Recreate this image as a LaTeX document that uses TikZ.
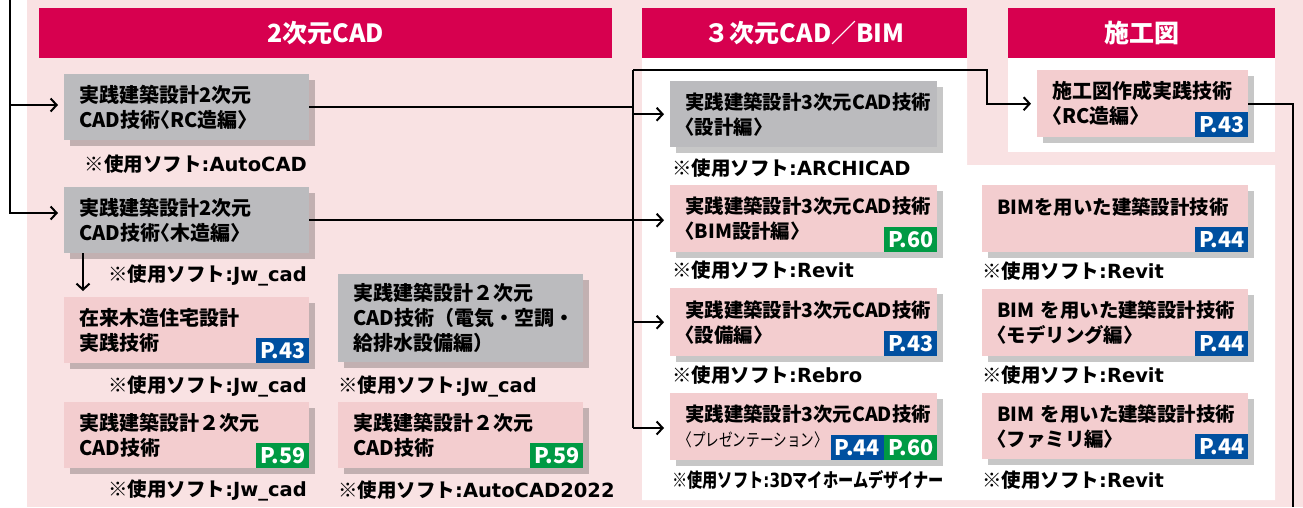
\documentclass[tikz,border=0pt]{standalone}
\usepackage{fontspec}
\usepackage{graphicx}
\setmainfont{Noto Sans CJK JP}
\newfontfamily\latf{DejaVu Sans}
\newfontfamily\hwf{Noto Sans CJK JP}[RawFeature=+halt]
\newcommand\en[1]{{\latf #1}}
\newcommand\lbr{{\hwf 〈}}
\newcommand\rbr{{\hwf 〉}}
\usetikzlibrary{arrows.meta,shadows}
\definecolor{bgpink}{HTML}{F9E2E3}
\definecolor{crimson}{HTML}{D7004F}
\definecolor{boxgray}{HTML}{BBBBBE}
\definecolor{boxpink}{HTML}{F3CDCF}
\definecolor{pblue}{HTML}{0050A0}
\definecolor{pgreen}{HTML}{009A44}
\begin{document}
\begin{tikzpicture}[x=1pt,y=-1pt,
  boxbase/.style={anchor=north west, inner xsep=15pt, inner ysep=0pt, align=left,
    font=\bfseries\fontsize{20}{25}\selectfont,
    drop shadow={shadow xshift=6pt,shadow yshift=-6pt,fill=black,opacity=0.22}},
  graybox/.style={boxbase, fill=boxgray},
  pinkbox/.style={boxbase, fill=boxpink},
  narrowtext/.style={font=\bfseries\fontsize{19.4}{25}\selectfont},
  badge/.style={anchor=south east, text=white, inner xsep=3pt, inner ysep=0pt,
    minimum height=25pt, minimum width=53pt, font=\bfseries\fontsize{21.5}{21.5}\selectfont},
  note/.style={inner sep=0pt, font=\bfseries\fontsize{19.5}{20}\selectfont},
  hdr/.style={anchor=north west, fill=crimson, text=white, minimum height=50pt,
    inner sep=0pt, font=\bfseries\fontsize{25}{25}\selectfont},
  conn/.style={line width=2pt, black},
  ar/.style={-{Straight Barb[length=6pt,width=13pt]}, shorten >=6pt}]
\useasboundingbox (0,0) rectangle (1303,507);
% backgrounds
\fill[bgpink] (27,0) rectangle (1303,507);
\fill[white] (642,58) -- (967,58) -- (967,165) -- (1275,165) -- (1275,500) -- (642,500) -- cycle;
\fill[white] (1008,58) rectangle (1275,152);
% headers
\node[hdr, minimum width=573pt] (H1) at (39,8) {2次元CAD};
\node[hdr, minimum width=325pt] (H2) at (642,8) {３次元CAD／BIM};
\node[hdr, minimum width=267pt] (H3) at (1008,8) {施工図};
% 2D column
\node[graybox, text width=215pt, minimum height=66pt] (A1) at (64,74) {実践建築設計2次元\\CAD技術\lbr RC造編\rbr};
\node[note, anchor=east] (A1n) at (307,164) {※使用ソフト\en{:AutoCAD}};
\node[graybox, text width=215pt, minimum height=66pt] (A2) at (64,187) {実践建築設計2次元\\CAD技術\lbr 木造編\rbr};
\node[note, anchor=east] (A2n) at (307,275) {※使用ソフト\en{:Jw\_cad}};
\node[pinkbox, text width=215pt, minimum height=66pt] (A3) at (64,297) {在来木造住宅設計\\実践技術};
\node[badge, fill=pblue] (A3p) at (A3.south east) {P.43};
\node[note, anchor=east] (A3n) at (307,386) {※使用ソフト\en{:Jw\_cad}};
\node[pinkbox, text width=215pt, minimum height=66pt] (A4) at (64,402) {実践建築設計２次元\\CAD技術};
\node[badge, fill=pgreen] (A4p) at (A4.south east) {P.59};
\node[note, anchor=east] (A4n) at (307,490) {※使用ソフト\en{:Jw\_cad}};
\node[graybox, text width=215pt, minimum height=88pt] (A5) at (338,274) {実践建築設計２次元\\CAD技術（電気・空調・\\給排水設備編）};
\node[note, anchor=west] (A5n) at (338,386) {※使用ソフト\en{:Jw\_cad}};
\node[pinkbox, text width=215pt, minimum height=66pt] (A6) at (338,402) {実践建築設計２次元\\CAD技術};
\node[badge, fill=pgreen] (A6p) at (A6.south east) {P.59};
\node[note, anchor=west] (A6n) at (338,490) {※使用ソフト\en{:AutoCAD2022}};
% 3D column
\node[graybox, narrowtext, text width=237pt, minimum height=66pt] (B1) at (670,81) {実践建築設計3次元CAD技術\\\lbr 設計編\rbr};
\node[note, anchor=west] (B1n) at (672,168) {※使用ソフト\en{:ARCHICAD}};
\node[pinkbox, narrowtext, text width=237pt, minimum height=67pt] (B2) at (670,185) {実践建築設計3次元CAD技術\\\lbr BIM設計編\rbr};
\node[badge, fill=pgreen] (B2p) at (B2.south east) {P.60};
\node[note, anchor=west] (B2n) at (672,270) {※使用ソフト\en{:Revit}};
\node[pinkbox, narrowtext, text width=237pt, minimum height=68pt] (B3) at (670,288) {実践建築設計3次元CAD技術\\\lbr 設備編\rbr};
\node[badge, fill=pblue] (B3p) at (B3.south east) {P.43};
\node[note, anchor=west] (B3n) at (672,375) {※使用ソフト\en{:Rebro}};
\node[pinkbox, narrowtext, text width=237pt, minimum height=67pt] (B4) at (670,393) {実践建築設計3次元CAD技術\\\scalebox{0.78}[1]{\mdseries\fontsize{17.5}{17.5}\selectfont \lbr プレゼンテーション\rbr}};
\node[badge, fill=pgreen] (B4q) at (B4.south east) {P.60};
\node[badge, fill=pblue] (B4p) at (B4q.south west) {P.44};
\node[note, anchor=west] (B4n) at (672,480) {\scalebox{0.78}[1]{※使用ソフト\en{:3D}マイホームデザイナー}};
% BIM column
\node[pinkbox, narrowtext, text width=236pt, minimum height=67pt] (C1) at (982,185) {BIMを用いた建築設計技術\\\mbox{}};
\node[badge, fill=pblue] (C1p) at (C1.south east) {P.44};
\node[note, anchor=west] (C1n) at (982,271) {※使用ソフト\en{:Revit}};
\node[pinkbox, narrowtext, text width=236pt, minimum height=67pt] (C2) at (982,289) {BIM~を用いた建築設計技術\\\lbr モデリング編\rbr};
\node[badge, fill=pblue] (C2p) at (C2.south east) {P.44};
\node[note, anchor=west] (C2n) at (982,375) {※使用ソフト\en{:Revit}};
\node[pinkbox, narrowtext, text width=236pt, minimum height=66pt] (C3) at (982,393) {BIM~を用いた建築設計技術\\\lbr ファミリ編\rbr};
\node[badge, fill=pblue] (C3p) at (C3.south east) {P.44};
\node[note, anchor=west] (C3n) at (982,480) {※使用ソフト\en{:Revit}};
% 施工図
\node[pinkbox, text width=181pt, minimum height=67pt] (D1) at (1037,70) {施工図作成実践技術\\\lbr RC造編\rbr};
\node[badge, fill=pblue] (D1p) at (D1.south east) {P.43};
% connectors
\coordinate (L0) at (10,0);
\coordinate (L1) at (10,105);
\coordinate (L2) at (10,213);
\coordinate (Vtop) at (633,70);
\coordinate (Vbot) at (633,428);
\coordinate (T1) at (987,70);
\coordinate (Rb) at (1293,507);
\coordinate (Dn) at (83,0);
\draw[conn,ar] (L1) -- (L1 -| A1.west);
\draw[conn,ar] (L0) -- (L2) -- (L2 -| A2.west);
\draw[conn,ar] (A2.south -| Dn) -- (A3.north -| Dn);
\draw[conn] (A1.east) -- (A1.east -| Vtop);
\draw[conn] (Vtop) -- (Vbot);
\draw[conn,ar] (Vtop |- B1.west) -- (B1.west);
\draw[conn,ar] (A2.east) -- (A2.east -| B2.west);
\draw[conn,ar] (Vtop |- B3.west) -- (B3.west);
\draw[conn,ar] (Vbot) -- (Vbot -| B4.west);
\draw[conn,ar] (Vtop) -- (T1) |- (D1.west);
\draw[conn] (D1.east) -- (D1.east -| Rb) -- (Rb);
\end{tikzpicture}
\end{document}
